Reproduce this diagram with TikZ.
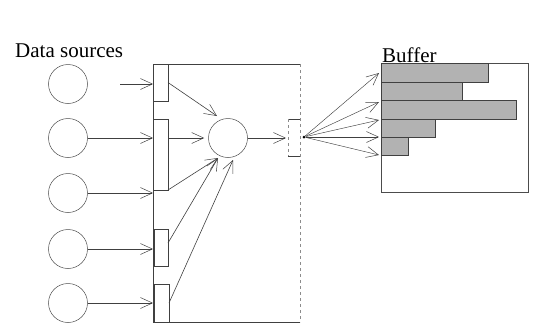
\documentclass[tikz,border=0pt]{standalone}
\usepackage{fontspec}
\setmainfont{Liberation Serif}
\usetikzlibrary{arrows.meta}
\begin{document}
\begin{tikzpicture}[x=1pt,y=-1pt,
  ln/.style={draw=black!75,line width=0.6pt},
  arr/.style={ln,-{Straight Barb[length=12pt,width=11pt,line width=0.5pt]}},
  src/.style={circle,draw=black!70,line width=0.5pt,minimum size=39pt,inner sep=0pt},
  barbox/.style={draw=black!75,line width=0.6pt,inner sep=0pt,outer sep=0pt,anchor=north west},
  bufbar/.style={draw=black!75,line width=0.6pt,fill=black!30},
  lbl/.style={font=\fontsize{21}{24}\selectfont,inner sep=0pt,anchor=base west}]
\useasboundingbox (0,0) rectangle (546,325);

% labels
\node[lbl] (ds) at (15,57) {Data sources};

% data sources
\node[src] (s1) at (68,84) {};
\node[src] (s2) at (68,138) {};
\node[src] (s3) at (68,193) {};
\node[src] (s4) at (68,249) {};
\node[src] (s5) at (68,303) {};

% large frame
\coordinate (fTL) at (153,64);
\coordinate (fTR) at (300,64);
\coordinate (fBR) at (300,322);
\coordinate (fBL) at (153,322);
\draw[ln] (fBL) -- (fTL) -- (fTR);
\draw[ln,dashed,draw=black!45] (fTR) -- (fBR);
\draw[ln] (fBR) -- (fBL);

% input bars
\node[barbox,minimum width=15pt,minimum height=37pt] (b1) at (153,64) {};
\node[barbox,minimum width=15pt,minimum height=71pt] (b2) at (153,119) {};
\node[barbox,minimum width=14pt,minimum height=37pt] (b3) at (154,229) {};
\node[barbox,minimum width=15pt,minimum height=38pt] (b4) at (154,284) {};

% source arrows
\coordinate (a1) at (120,84);
\draw[arr] (a1) -- (b1.west |- s1);
\draw[arr] (s2.east) -- (b2.west |- s2);
\draw[arr] (s3.east) -- (153,193);
\draw[arr] (s4.east) -- (153,249);
\draw[arr] (s5.east) -- (153,303);

% central circle
\node[src,minimum size=39pt] (c) at (228,138) {};
\coordinate (t1) at (217,116);
\coordinate (t2) at (218,158);
\coordinate (t3) at (233,160);
\draw[arr] (b1.east) -- (t1);
\draw[arr] (b2.east |- c) -- ([xshift=-4pt]c.west);
\draw[arr] (b2.south east) -- (t2);
\draw[arr] (168,243) -- (t2);
\draw[arr] (169,303) -- (t3);

% right small bar
\coordinate (rTL) at (288,119);
\coordinate (rBL) at (288,156);
\draw[ln] (300,119) -- (rTL);
\draw[ln,dashed,draw=black!45] (rTL) -- (rBL);
\draw[ln] (rBL) -- (300,156);
\draw[arr] (c.east) -- (286,138);

% fan-out
\node[circle,fill=black,inner sep=0pt,minimum size=3pt] (f) at (304,137) {};

% buffer
\node[draw=black!70,line width=0.6pt,inner sep=0pt,anchor=north west,
  minimum width=147pt,minimum height=129pt] (buf) at (381,63) {};
\draw[bufbar] (381,63) rectangle (488,82);
\draw[bufbar] (381,82) rectangle (462,100);
\draw[bufbar] (381,100) rectangle (516,119);
\draw[bufbar] (381,119) rectangle (435,137);
\draw[bufbar] (381,137) rectangle (408,155);
\node[lbl] (bt) at (382,62) {Buffer};

\draw[arr,line width=0.45pt] (f) -- (379,73);
\draw[arr,line width=0.45pt] (f) -- (379,102);
\draw[arr,line width=0.45pt] (f) -- (379,120);
\draw[arr,line width=0.45pt] (f) -- (379,137);
\draw[arr,line width=0.45pt] (f) -- (379,155);
\end{tikzpicture}
\end{document}
